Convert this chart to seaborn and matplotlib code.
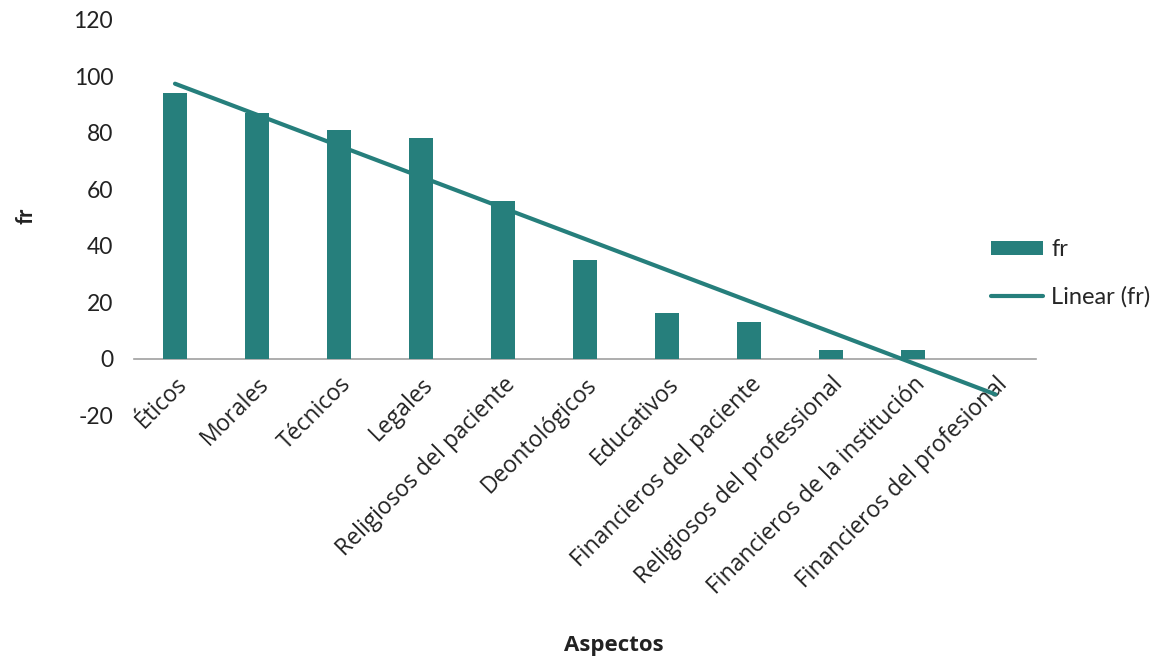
import numpy as np
import pandas as pd
import matplotlib
matplotlib.use("Agg")
import matplotlib.pyplot as plt
import seaborn as sns
from matplotlib.patches import Patch
from matplotlib.lines import Line2D

categories = ["Éticos", "Morales", "Técnicos", "Legales", "Religiosos del paciente",
              "Deontológicos", "Educativos", "Financieros del paciente",
              "Religiosos del professional", "Financieros de la institución",
              "Financieros del profesional"]
fr_values = [94, 87, 81, 78, 56, 35, 16, 13, 3, 3, 0]
y_ticks = [-20, 0, 20, 40, 60, 80, 100, 120]

color = "#267f7c"

sns.set_theme(style="white")
plt.rcParams['font.family'] = ['Lato', 'DejaVu Sans']

fig = plt.figure(figsize=(11.6, 6.59), dpi=100)
ax = fig.add_axes([0.1155, 0.370, 0.778, 0.600])

df = pd.DataFrame({"Aspectos": categories, "fr": fr_values})
sns.barplot(data=df, x="Aspectos", y="fr", color=color, width=0.29,
            saturation=1, linewidth=0, ax=ax)

# linear trend line
xs = np.arange(len(categories))
coef = np.polyfit(xs, fr_values, 1)
ax.plot(xs, np.polyval(coef, xs), color=color, lw=3, solid_capstyle='round', zorder=3)

for name, s in ax.spines.items():
    s.set_visible(False)
ax.spines['bottom'].set_visible(True)
ax.spines['bottom'].set_position(('data', 0))
ax.spines['bottom'].set_color("#a0a0a0")
ax.spines['bottom'].set_linewidth(1.2)
ax.spines['bottom'].set_zorder(0.5)

ax.set_xlim(-0.5, len(categories) - 0.5)
ax.set_ylim(-20, 120)
ax.set_yticks(y_ticks)
ax.set_yticklabels([str(t) for t in y_ticks], fontsize=16.5, color="#222222")
ax.tick_params(axis='y', length=0, pad=15)
ax.tick_params(axis='x', length=0, pad=10)
ax.set_xticks(xs)
ax.set_xticklabels(categories, rotation=45, ha='right', va='top', rotation_mode='anchor',
                   fontsize=16.5, family=['Open Sans', 'DejaVu Sans'], color="#222222")

ax.set_xlabel("")
ax.set_ylabel("")
fig.text(0.529, 0.021, "Aspectos", ha='center', va='center', fontsize=16,
         fontweight='bold', color="#222222", family=['Open Sans', 'DejaVu Sans'])
fig.text(0.022, 0.672, "fr", ha='center', va='center', rotation=90, fontsize=16,
         fontweight='bold', color="#222222")

handles = [Patch(facecolor=color, edgecolor='none'),
           Line2D([0], [0], color=color, lw=3)]
fig.legend(handles, ["fr", "Linear (fr)"], loc='center left',
           bbox_to_anchor=(0.836, 0.585), frameon=False, fontsize=17,
           handlelength=2.2, handleheight=0.5, labelspacing=1.1, handletextpad=0.35)

fig.savefig("out.png", dpi=100)
